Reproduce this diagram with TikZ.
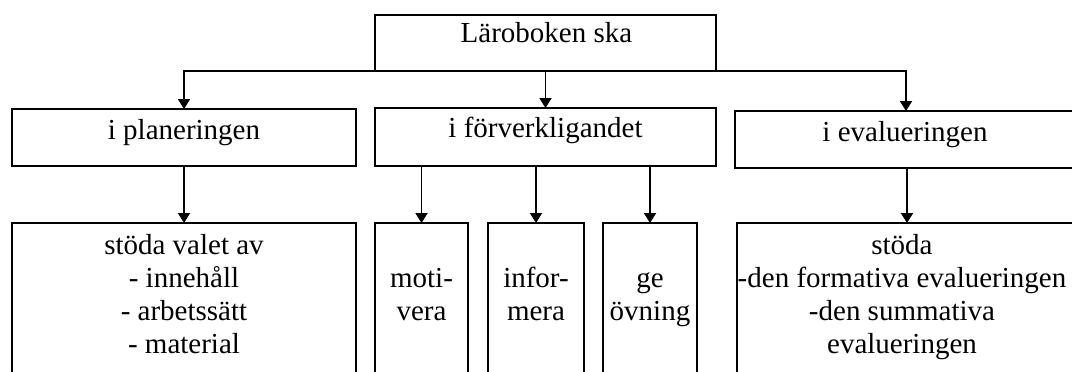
\documentclass[tikz,border=0pt]{standalone}
\usepackage{fontspec}
\setmainfont{Liberation Serif}
\usetikzlibrary{arrows.meta}
\begin{document}
\begin{tikzpicture}[x=1pt,y=-1pt,
  box/.style={draw, line width=1.8pt, inner sep=0pt, outer sep=0pt},
  txt/.style={anchor=base, inner sep=0pt, font=\fontsize{29}{33}\selectfont},
  arr/.style={line width=1.8pt, -{Triangle[width=12pt,length=10pt]}}]
\useasboundingbox (0,0) rectangle (1072,372);
\fill[white] (0,0) rectangle (1072,372);
\clip (0,0) rectangle (1072,372);
% top
\node[box, minimum width=341pt, minimum height=56pt] (top) at (545.5,43) {};
\node[txt] (ttop) at (546.5,42) {Läroboken ska};
% second row
\node[box, minimum width=344pt, minimum height=57pt] (plan) at (184,137.5) {};
\node[txt] (tplan) at (184,139) {i planeringen};
\node[box, minimum width=341pt, minimum height=58pt] (forv) at (545.5,137) {};
\node[txt] (tforv) at (545.5,137) {i förverkligandet};
\node[box, minimum width=342pt, minimum height=57pt] (eval) at (906,139.5) {};
\node[txt] (teval) at (905,141) {i evalueringen};
% third row
\node[box, minimum width=344pt, minimum height=167pt] (stod) at (184,306.5) {};
\node[txt] (tstod) at (184,254) {\begin{tabular}[t]{@{}c@{}}stöda valet av\\- innehåll\\- arbetssätt\\- material\end{tabular}};
\node[box, minimum width=93pt, minimum height=167pt] (moti) at (421.5,306.5) {};
\node[txt] (tmoti) at (421.5,287) {\begin{tabular}[t]{@{}c@{}}moti-\\vera\end{tabular}};
\node[box, minimum width=96pt, minimum height=167pt] (info) at (536,306.5) {};
\node[txt] (tinfo) at (536,287) {\begin{tabular}[t]{@{}c@{}}infor-\\mera\end{tabular}};
\node[box, minimum width=94pt, minimum height=167pt] (ovn) at (650,306.5) {};
\node[txt] (tovn) at (650,287) {\begin{tabular}[t]{@{}c@{}}ge\\övning\end{tabular}};
\node[box, minimum width=340pt, minimum height=167pt] (evb) at (907,306.5) {};
\node[txt] (tevb) at (902,254) {\begin{tabular}[t]{@{}c@{}}stöda\\-den formativa evalueringen\\-den summativa\\evalueringen\end{tabular}};
% connectors
\draw[arr] (top.south) -| (plan.north);
\draw[arr] (top.south) -| (eval.north);
\draw[arr] (top.south) -- (forv.north);
\draw[arr] (plan.south) -- (stod.north);
\draw[arr] (moti.north |- forv.south) -- (moti.north);
\draw[arr] (info.north |- forv.south) -- (info.north);
\draw[arr] (ovn.north |- forv.south) -- (ovn.north);
\draw[arr] (eval.south -| evb.north) -- (evb.north);
\end{tikzpicture}
\end{document}
